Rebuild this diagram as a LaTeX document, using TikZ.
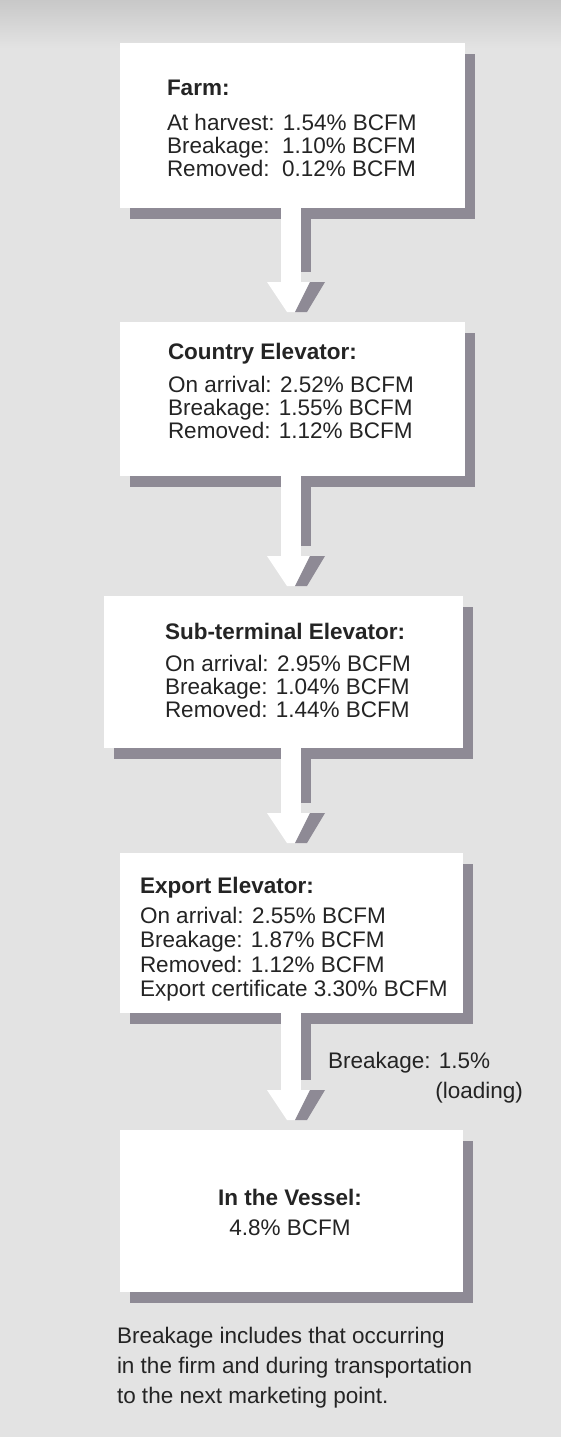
\documentclass[tikz,border=0pt]{standalone}
\usepackage{fontspec}
\setmainfont{Liberation Sans}
\usetikzlibrary{calc,shadows}
\definecolor{bgc}{HTML}{E3E3E3}
\definecolor{topc}{HTML}{C8C8C8}
\definecolor{shc}{HTML}{8E8A95}
\definecolor{txc}{HTML}{242424}
\begin{document}
\begin{tikzpicture}[x=1pt,y=-1pt,
  box/.style={rectangle, fill=white, draw=none, inner sep=0pt, outer sep=0pt,
    anchor=north west,
    drop shadow={shadow xshift=10pt, shadow yshift=-11pt, fill=shc, opacity=1}},
  txt/.style={font=\fontsize{22.5}{23}\selectfont, text=txc, inner sep=0pt,
    outer sep=0pt, align=left, anchor=north west},
  shaft/.style={fill=white},
  shade/.style={fill=shc}
]
\useasboundingbox (0,0) rectangle (561,1437);
\fill[bgc] (0,0) rectangle (561,1437);
\fill[top color=topc, bottom color=bgc] (0,0) rectangle (561,48);

% boxes
\node[box, minimum width=345pt, minimum height=165pt] (farm) at (120,43) {};
\node[box, minimum width=345pt, minimum height=154pt] (country) at (120,322) {};
\node[box, minimum width=359pt, minimum height=152pt] (sub) at (104,596) {};
\node[box, minimum width=343pt, minimum height=160pt] (export) at (120,853) {};
\node[box, minimum width=343pt, minimum height=162pt] (vessel) at (120,1130) {};

% arrows
\coordinate (ax) at (291,0);
\foreach \a/\b in {farm/country, country/sub, sub/export, export/vessel}{
  \fill[shaft] ($(\a.south -| ax)+(-10,-1)$) rectangle ($(\b.north -| ax)+(10,-40)$);
  \fill[shade] ($(\a.south -| ax)+(10,2)$) rectangle ($(\b.north -| ax)+(20,-50)$);
  \fill[shaft] ($(\b.north -| ax)+(-24,-40)$) -- ($(\b.north -| ax)+(19,-40)$)
     -- ($(\b.north -| ax)+(4,-10)$) -- ($(\b.north -| ax)+(-4,-10)$) -- cycle;
  \fill[shade] ($(\b.north -| ax)+(19,-40)$) -- ($(\b.north -| ax)+(34,-40)$)
     -- ($(\b.north -| ax)+(16,-10)$) -- ($(\b.north -| ax)+(4,-10)$) -- cycle;
}

% texts
\node[txt] (farmtxt) at (167,80) {\textbf{Farm:}\\[12pt]
  At harvest: 1.54\% BCFM\\
  Breakage:\ \ 1.10\% BCFM\\
  Removed:\ \ 0.12\% BCFM};
\node[txt] (countrytxt) at (168,343) {\textbf{Country Elevator:}\\[10pt]
  On arrival: 2.52\% BCFM\\
  Breakage: 1.55\% BCFM\\
  Removed: 1.12\% BCFM};
\node[txt] (subtxt) at (165,623) {\textbf{Sub-terminal Elevator:}\\[9pt]
  On arrival: 2.95\% BCFM\\
  Breakage: 1.04\% BCFM\\
  Removed: 1.44\% BCFM};
\node[txt, font=\fontsize{22.5}{24.3}\selectfont] (exporttxt) at (140,877) {\textbf{Export Elevator:}\\[6pt]
  On arrival: 2.55\% BCFM\\
  Breakage: 1.87\% BCFM\\
  Removed: 1.12\% BCFM\\
  Export certificate 3.30\% BCFM};
\node[txt, align=center, anchor=north] (vesseltxt) at (290,1189) {\textbf{In the Vessel:}\\[7pt]
  4.8\% BCFM};
\node[txt, anchor=base west] (brk) at (328,1068) {Breakage: 1.5\%};
\node[txt, anchor=base east] (load) at (523,1098) {(loading)};
\node[txt, font=\fontsize{22.5}{30}\selectfont] (note) at (117,1327) {Breakage includes that occurring\\
  in the firm and during transportation\\
  to the next marketing point.};
\end{tikzpicture}
\end{document}
